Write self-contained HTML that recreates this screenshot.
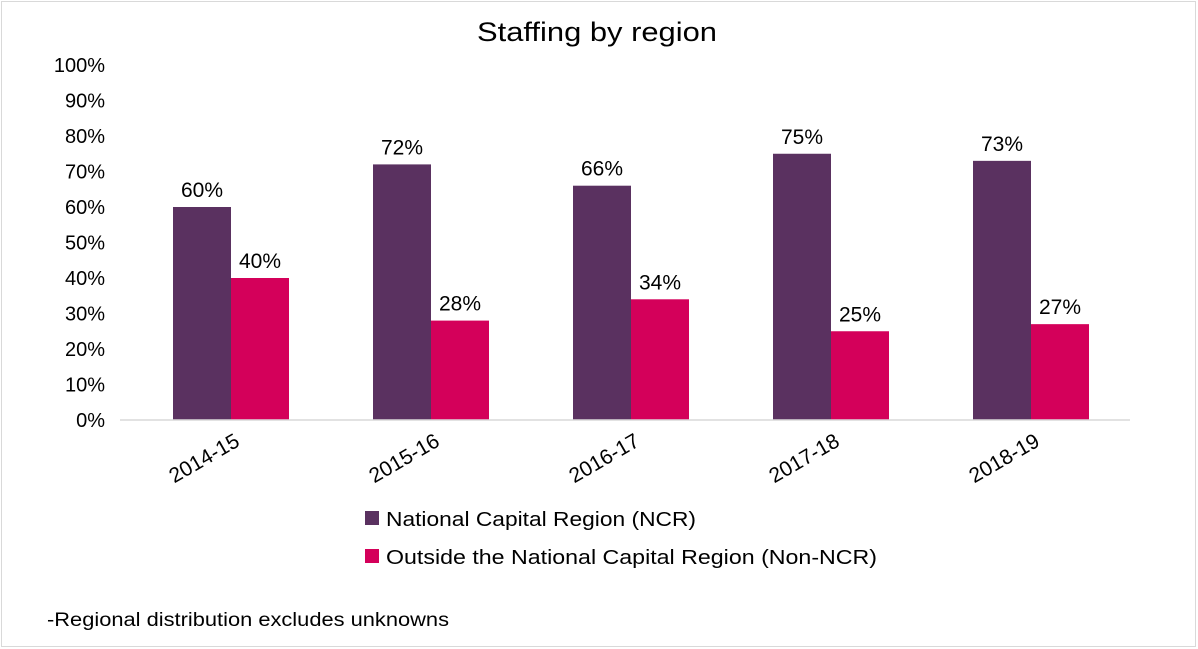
<!DOCTYPE html>
<html><head><meta charset="utf-8"><style>
body{margin:0;background:#fff;}
svg{display:block;font-family:"Liberation Sans",sans-serif;}
</style></head><body>
<svg id="chart" width="1198" height="649">
<rect x="1.5" y="1.5" width="1194" height="645" fill="#fff" stroke="#d9d9d9"/>
<text x="477" y="41" font-size="27" textLength="240" lengthAdjust="spacingAndGlyphs" fill="#000">Staffing by region</text>
<g id="yaxis"></g><g id="bars"></g><g id="xaxis"></g>
<line x1="120" y1="420" x2="1130" y2="420" stroke="#d9d9d9" stroke-width="1.5"/>
<g>
<rect x="365" y="511" width="14" height="14" fill="#5a3160"/>
<text x="386" y="526" font-size="20" textLength="310" lengthAdjust="spacingAndGlyphs">National Capital Region (NCR)</text>
<rect x="365" y="549" width="14" height="14" fill="#d4005a"/>
<text x="386" y="564" font-size="20" textLength="491" lengthAdjust="spacingAndGlyphs">Outside the National Capital Region (Non-NCR)</text>
</g>
<text x="47" y="626" font-size="19" textLength="402" lengthAdjust="spacingAndGlyphs">-Regional distribution excludes unknowns</text>
</svg>
<script>
const categories=["2014-15","2015-16","2016-17","2017-18","2018-19"];
const ncrValues=[60,72,66,75,73];
const nonNcrValues=[40,28,34,25,27];
const yTicks=[0,10,20,30,40,50,60,70,80,90,100];
const NS="http://www.w3.org/2000/svg";
function y(v){return 420-v*3.55;}
function xc(i){return 231+i*200;}
function mk(tag,attrs,parent,txt){const e=document.createElementNS(NS,tag);for(const k in attrs)e.setAttribute(k,attrs[k]);if(txt!==undefined)e.textContent=txt;parent.appendChild(e);return e;}
const ya=document.getElementById('yaxis'),bg=document.getElementById('bars'),xa=document.getElementById('xaxis');
yTicks.forEach(t=>{const e=mk('text',{x:105,y:y(t)+7,'text-anchor':'end','font-size':20},ya,t+'%');

});
const bw=58;
categories.forEach((c,i)=>{
 const x=xc(i);
 const a=mk('rect',{x:x-bw,y:y(ncrValues[i]),width:bw,height:ncrValues[i]*3.55,fill:'#5a3160'},bg);
 
 
 const b=mk('rect',{x:x,y:y(nonNcrValues[i]),width:bw,height:nonNcrValues[i]*3.55,fill:'#d4005a'},bg);
 
 
 const la=mk('text',{x:x-bw/2,y:y(ncrValues[i])-10,'text-anchor':'middle','font-size':21},bg,ncrValues[i]+'%');
 
 
 const lb=mk('text',{x:x+bw/2,y:y(nonNcrValues[i])-10,'text-anchor':'middle','font-size':21},bg,nonNcrValues[i]+'%');
 
 
 const t=mk('text',{x:x+10,y:445,'text-anchor':'end','font-size':21,transform:`rotate(-30 ${x+10} 445)`},xa,c);
 
 
});
</script>
</body></html>
